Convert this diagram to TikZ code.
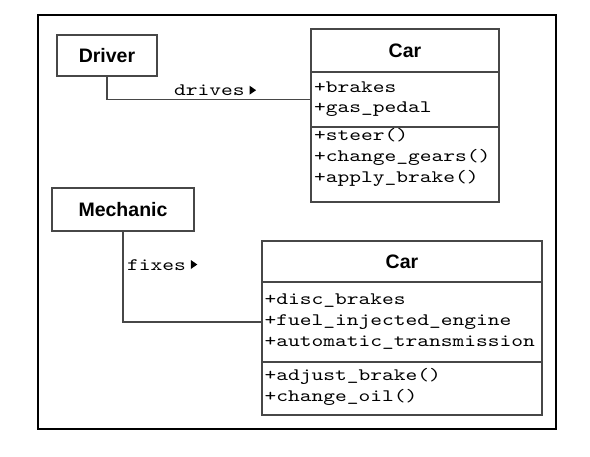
\documentclass[tikz,border=0pt]{standalone}
\usepackage{fontspec}
\newfontfamily\monof{lmmono10-regular}[Extension=.otf,FakeStretch=1.28]
\newfontfamily\sansf{Liberation Sans}
\begin{document}
\begin{tikzpicture}[x=1pt,y=-1pt,
  frame/.style={draw=black,line width=1.3pt},
  box/.style={draw=black!72,line width=1.2pt,inner sep=0pt,outer sep=0pt,anchor=north west},
  titlefont/.style={font=\sansf\bfseries\fontsize{19.5}{20}\selectfont},
  member/.style={inner sep=0pt,outer sep=0pt,anchor=base west,font=\monof\fontsize{17.5}{21}\selectfont},
  conn/.style={draw=black!72,line width=1.2pt},
  tri/.style={fill=black}
]
\useasboundingbox (0,0) rectangle (590,456);
\draw[frame] (38,15) rectangle (556,429);

% Driver and first Car
\node[box,titlefont,minimum width=100pt,minimum height=41pt] (driver) at (57,35) {Driver};
\node[box,titlefont,minimum width=188pt,minimum height=43pt] (c1t) at (311,29) {Car};
\node[box,minimum width=188pt,minimum height=55pt] (c1a) at (311,72) {};
\node[box,minimum width=188pt,minimum height=75pt] (c1m) at (311,127) {};
\node[member] (c1a1) at (314,92) {+brakes};
\node[member] (c1a2) at (314,112.5) {+gas\_pedal};
\node[member] (c1m1) at (314,140.5) {+steer()};
\node[member] (c1m2) at (314,161.5) {+change\_gears()};
\node[member] (c1m3) at (314,182.5) {+apply\_brake()};
\draw[conn] (driver.south) |- (c1a.west);
\node[member] (drl) at (174,95.7) {drives};
\fill[tri] (drl.base east) ++(5,-1) -- ++(0,-9) -- ++(6.5,4.5) -- cycle;

% Mechanic and second Car
\node[box,titlefont,minimum width=142pt,minimum height=43pt] (mech) at (52,188) {Mechanic};
\node[box,titlefont,minimum width=280pt,minimum height=41pt] (c2t) at (262,241) {Car};
\node[box,minimum width=280pt,minimum height=80pt] (c2a) at (262,282) {};
\node[box,minimum width=280pt,minimum height=53pt] (c2m) at (262,362) {};
\node[member] (c2a1) at (264.5,304.5) {+disc\_brakes};
\node[member] (c2a2) at (264.5,325.5) {+fuel\_injected\_engine};
\node[member] (c2a3) at (264.5,346.5) {+automatic\_transmission};
\node[member] (c2m1) at (264.5,380.5) {+adjust\_brake()};
\node[member] (c2m2) at (264.5,401) {+change\_oil()};
\draw[conn] (mech.south) |- (c2a.west);
\node[member] (fxl) at (127,270) {fixes};
\fill[tri] (fxl.base east) ++(5,-1) -- ++(0,-9) -- ++(6.5,4.5) -- cycle;
\end{tikzpicture}
\end{document}
